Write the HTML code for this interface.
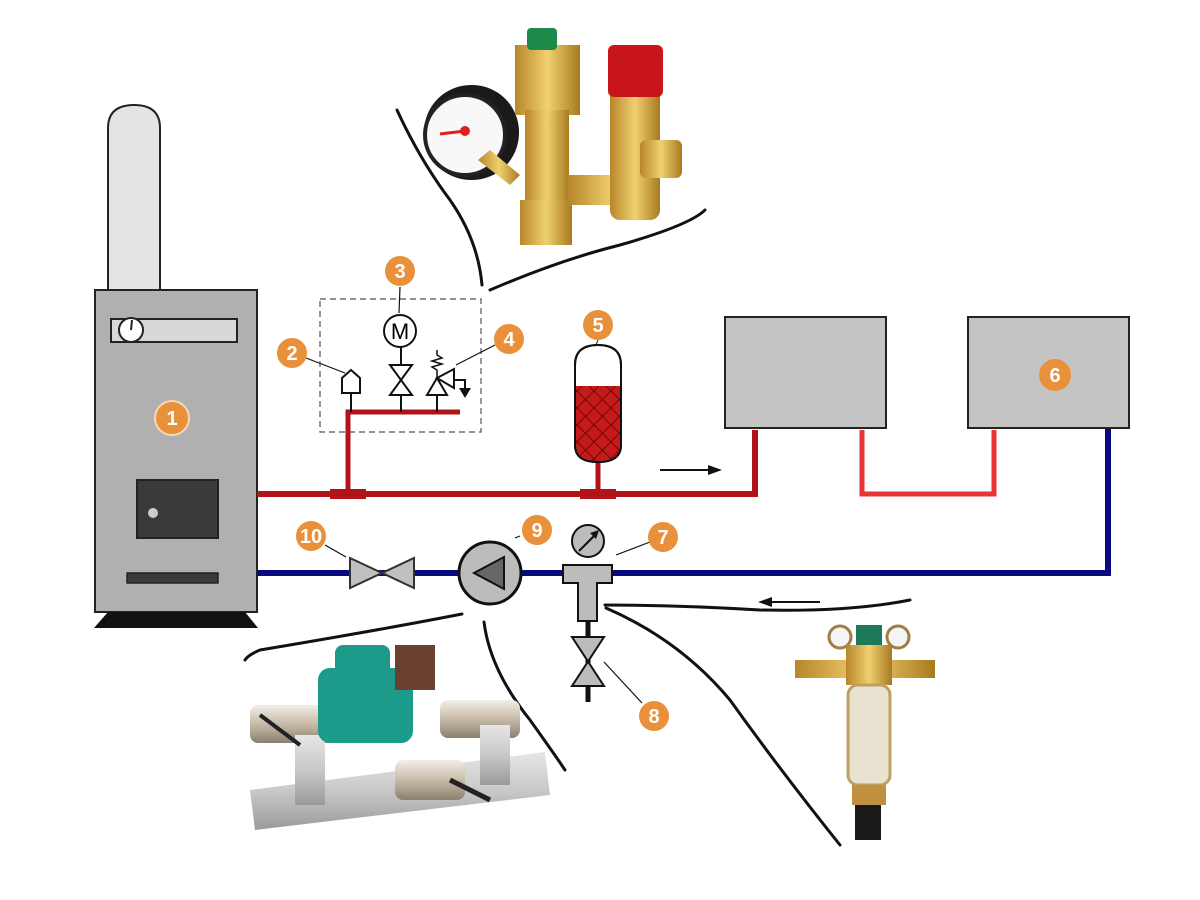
<!DOCTYPE html>
<html><head><meta charset="utf-8"><style>
html,body{margin:0;padding:0;background:#fff;}
svg{display:block;}
.b{fill:#e8913a;}
.bt{font-family:"Liberation Sans",sans-serif;font-size:20px;fill:#fff;text-anchor:middle;font-weight:bold;}
</style></head><body>
<svg width="1200" height="900" viewBox="0 0 1200 900">
<defs>
<linearGradient id="brass" x1="0" x2="1"><stop offset="0" stop-color="#b8862a"/><stop offset=".5" stop-color="#f0d070"/><stop offset="1" stop-color="#a87a20"/></linearGradient>
<linearGradient id="grey" x1="0" x2="0" y1="0" y2="1"><stop offset="0" stop-color="#e6e6e6"/><stop offset=".5" stop-color="#c8c8c8"/><stop offset="1" stop-color="#9a9a9a"/></linearGradient>
<linearGradient id="chrome" x1="0" x2="0" y1="0" y2="1"><stop offset="0" stop-color="#f2eee8"/><stop offset=".5" stop-color="#c8bba8"/><stop offset="1" stop-color="#8a7f70"/></linearGradient>
<pattern id="hatch" width="12" height="12" patternUnits="userSpaceOnUse" patternTransform="rotate(45)"><rect width="12" height="12" fill="#c41a1a"/><path d="M0 0V12M0 0H12" stroke="#5a0000" stroke-width="1.5"/></pattern>
</defs>

<!-- chimney -->
<path d="M108 290V128Q108 105 134 105Q160 105 160 128V290Z" fill="#e4e4e4" stroke="#222" stroke-width="2"/>
<!-- boiler -->
<rect x="95" y="290" width="162" height="322" fill="#b0b0b0" stroke="#222" stroke-width="2"/>
<rect x="111" y="319" width="126" height="23" fill="#d8d8d8" stroke="#222" stroke-width="2"/>
<circle cx="131" cy="330" r="12" fill="#fff" stroke="#222" stroke-width="2"/>
<line x1="131" y1="330" x2="132" y2="320" stroke="#222" stroke-width="2"/>
<rect x="137" y="480" width="81" height="58" fill="#3a3a3a" stroke="#222" stroke-width="2"/>
<circle cx="153" cy="513" r="5" fill="#ccc"/>
<rect x="127" y="573" width="91" height="10" fill="#3a3a3a" stroke="#222" stroke-width="1.5"/>
<path d="M108 612H245L258 628H94Z" fill="#111"/>
<circle cx="172" cy="418" r="17" class="b" stroke="#f7d9b5" stroke-width="2"/><text x="172" y="425" class="bt">1</text>

<!-- red supply -->
<path d="M257 494H755V430" fill="none" stroke="#b01418" stroke-width="6"/>
<rect x="330" y="489" width="36" height="10" fill="#b01418"/>
<rect x="580" y="489" width="36" height="10" fill="#b01418"/>
<path d="M348 494V412H460" fill="none" stroke="#b01418" stroke-width="5"/>
<path d="M862 430V494H994V430" fill="none" stroke="#e83434" stroke-width="5"/>
<!-- blue return -->
<path d="M257 573H1108V428" fill="none" stroke="#0a0a80" stroke-width="6"/>

<!-- radiators -->
<rect x="725" y="317" width="161" height="111" fill="#c4c4c4" stroke="#222" stroke-width="2"/>
<rect x="968" y="317" width="161" height="111" fill="#c4c4c4" stroke="#222" stroke-width="2"/>
<circle cx="1055" cy="375" r="16" class="b"/><text x="1055" y="382" class="bt">6</text>

<!-- dashed box -->
<rect x="320" y="299" width="161" height="133" fill="none" stroke="#555" stroke-width="1.2" stroke-dasharray="6,4"/>
<!-- air vent -->
<path d="M351 412V393M342 393V378L351 370L360 378V393Z" fill="#fff" stroke="#111" stroke-width="2"/>
<!-- motor valve -->
<line x1="401" y1="412" x2="401" y2="345" stroke="#111" stroke-width="2"/>
<path d="M390 365L412 365L390 395L412 395Z" fill="#fff" stroke="#111" stroke-width="2"/>
<circle cx="400" cy="331" r="16" fill="#fff" stroke="#111" stroke-width="2"/>
<text x="400" y="339" font-family="Liberation Sans,sans-serif" font-size="22" text-anchor="middle">M</text>
<!-- safety valve -->
<line x1="437" y1="412" x2="437" y2="395" stroke="#111" stroke-width="2"/>
<path d="M427 395L447 395L437 378Z M437 378L454 369V388Z" fill="#fff" stroke="#111" stroke-width="2"/>
<path d="M437 378V370l-5-3 10-3-10-3 10-3-5-3V350" fill="none" stroke="#111" stroke-width="1.5"/>
<path d="M454 380H465V388" fill="none" stroke="#111" stroke-width="2"/>
<path d="M459 388H471L465 398Z" fill="#111"/>
<!-- badges 2,3,4 -->
<line x1="306" y1="358" x2="345" y2="373" stroke="#111" stroke-width="1.2"/>
<circle cx="292" cy="353" r="15" class="b"/><text x="292" y="360" class="bt">2</text>
<line x1="400" y1="287" x2="399" y2="313" stroke="#111" stroke-width="1.2"/>
<circle cx="400" cy="271" r="15" class="b"/><text x="400" y="278" class="bt">3</text>
<line x1="495" y1="345" x2="456" y2="365" stroke="#111" stroke-width="1.2"/>
<circle cx="509" cy="339" r="15" class="b"/><text x="509" y="346" class="bt">4</text>

<!-- expansion tank -->
<line x1="598" y1="460" x2="598" y2="494" stroke="#b01418" stroke-width="5"/>
<path d="M575 365Q575 345 598 345Q621 345 621 365V445Q621 462 598 462Q575 462 575 445Z" fill="#fff" stroke="#111" stroke-width="2"/>
<path d="M576 386H620V445Q620 461 598 461Q576 461 576 445Z" fill="url(#hatch)"/>
<path d="M575 365Q575 345 598 345Q621 345 621 365V445Q621 462 598 462Q575 462 575 445Z" fill="none" stroke="#111" stroke-width="2"/>
<line x1="598" y1="340" x2="596" y2="345" stroke="#111"/>
<circle cx="598" cy="325" r="15" class="b"/><text x="598" y="332" class="bt">5</text>

<!-- arrows -->
<line x1="660" y1="470" x2="712" y2="470" stroke="#111" stroke-width="2"/><path d="M722 470L708 465V475Z" fill="#111"/>
<line x1="768" y1="602" x2="820" y2="602" stroke="#111" stroke-width="2"/><path d="M758 602L772 597V607Z" fill="#111"/>

<!-- valve 10 -->
<path d="M350 558L414 588V558L350 588Z" fill="#c0c0c0" stroke="#333" stroke-width="2"/>
<line x1="325" y1="545" x2="346" y2="557" stroke="#111" stroke-width="1.2"/>
<circle cx="311" cy="536" r="15" class="b"/><text x="311" y="543" class="bt" font-size="17">10</text>

<!-- pump -->
<circle cx="490" cy="573" r="31" fill="#bcbcbc" stroke="#111" stroke-width="3"/>
<path d="M474 573L504 557V589Z" fill="#666" stroke="#111" stroke-width="2"/>
<line x1="515" y1="538" x2="520" y2="536" stroke="#111" stroke-width="1.2"/>
<circle cx="537" cy="530" r="15" class="b"/><text x="537" y="537" class="bt">9</text>

<!-- filter T -->
<path d="M563 565H612V583H597V621H578V583H563Z" fill="#bcbcbc" stroke="#111" stroke-width="2"/>
<circle cx="588" cy="541" r="16" fill="#bcbcbc" stroke="#111" stroke-width="2"/>
<line x1="579" y1="551" x2="597" y2="533" stroke="#111" stroke-width="2"/><path d="M599 530L590 533L596 539Z" fill="#111"/>
<line x1="616" y1="555" x2="650" y2="542" stroke="#111" stroke-width="1.2"/>
<circle cx="663" cy="537" r="15" class="b"/><text x="663" y="544" class="bt">7</text>
<!-- valve 8 -->
<line x1="588" y1="621" x2="588" y2="702" stroke="#111" stroke-width="5"/>
<path d="M572 637H604L572 686H604Z" fill="#bcbcbc" stroke="#111" stroke-width="2"/>
<line x1="604" y1="662" x2="642" y2="703" stroke="#111" stroke-width="1.2"/>
<circle cx="654" cy="716" r="15" class="b"/><text x="654" y="723" class="bt">8</text>

<!-- black curves -->
<g fill="none" stroke="#111" stroke-width="3" stroke-linecap="round">
<path d="M397 110Q420 160 450 200Q478 240 482 285"/>
<path d="M490 290Q560 260 620 245Q690 225 705 210"/>
<path d="M462 614Q380 630 260 650Q248 655 245 660"/>
<path d="M484 622Q490 670 530 720Q555 755 565 770"/>
<path d="M605 605Q680 605 760 610Q850 612 910 600"/>
<path d="M606 608Q680 640 730 700Q780 770 840 845"/>
</g>

<!-- photo: safety group -->
<rect x="424" y="85" width="95" height="95" rx="47" fill="#1a1a1a"/>
<circle cx="465" cy="135" r="40" fill="#f8f8f8" stroke="#222" stroke-width="4"/>
<line x1="440" y1="134" x2="465" y2="131" stroke="#e02020" stroke-width="3"/><circle cx="465" cy="131" r="5" fill="#e02020"/>
<path d="M478 160L510 185L520 175L490 150Z" fill="url(#brass)"/>
<rect x="515" y="45" width="65" height="70" fill="url(#brass)"/>
<rect x="527" y="28" width="30" height="22" rx="4" fill="#1d8a4a"/>
<rect x="525" y="110" width="44" height="90" fill="url(#brass)"/>
<rect x="520" y="200" width="52" height="45" fill="url(#brass)"/>
<rect x="568" y="175" width="90" height="30" fill="url(#brass)"/>
<rect x="610" y="75" width="50" height="145" rx="10" fill="url(#brass)"/>
<rect x="608" y="45" width="55" height="52" rx="6" fill="#c8151b"/>
<rect x="640" y="140" width="42" height="38" rx="6" fill="url(#brass)"/>

<!-- photo: pump group -->
<rect x="250" y="705" width="100" height="38" rx="8" fill="url(#chrome)"/>
<rect x="440" y="700" width="80" height="38" rx="8" fill="url(#chrome)"/>
<path d="M250 790L545 752L550 795L255 830Z" fill="url(#grey)"/>
<rect x="295" y="735" width="30" height="70" fill="url(#grey)"/>
<rect x="480" y="725" width="30" height="60" fill="url(#grey)"/>
<rect x="395" y="760" width="70" height="40" rx="8" fill="url(#chrome)"/>
<rect x="318" y="668" width="95" height="75" rx="12" fill="#1c9a8a"/>
<rect x="335" y="645" width="55" height="30" rx="8" fill="#1c9a8a"/>
<rect x="395" y="645" width="40" height="45" fill="#6a4030"/>
<line x1="450" y1="780" x2="490" y2="800" stroke="#222" stroke-width="5"/>
<line x1="260" y1="715" x2="300" y2="745" stroke="#222" stroke-width="4"/>

<!-- photo: filter -->
<rect x="795" y="660" width="140" height="18" fill="url(#brass)"/>
<circle cx="840" cy="637" r="11" fill="#f4f4f4" stroke="#a08040" stroke-width="3"/>
<circle cx="898" cy="637" r="11" fill="#f4f4f4" stroke="#a08040" stroke-width="3"/>
<rect x="856" y="625" width="26" height="25" fill="#1c7a5a"/>
<rect x="846" y="645" width="46" height="40" fill="url(#brass)"/>
<rect x="848" y="685" width="42" height="100" rx="10" fill="#e8e2d0" stroke="#c0a060" stroke-width="3"/>
<rect x="852" y="785" width="34" height="20" fill="#c09040"/>
<rect x="855" y="805" width="26" height="35" fill="#1a1a1a"/>
</svg>
</body></html>
